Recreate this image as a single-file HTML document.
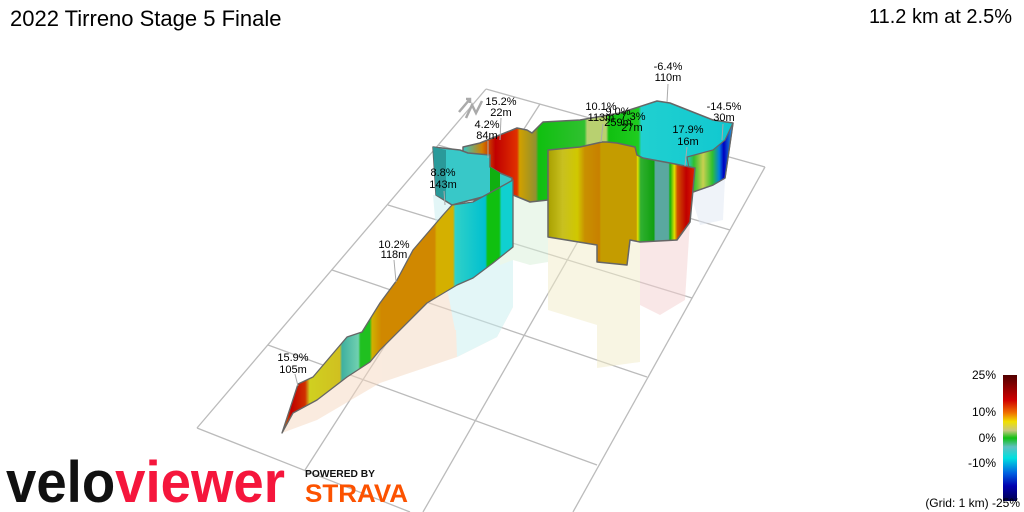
<!DOCTYPE html>
<html><head><style>
body{margin:0;width:1024px;height:512px;background:#fff;font-family:"Liberation Sans",sans-serif;overflow:hidden;position:relative}
.t{position:absolute;font-size:22px;color:#000}
</style></head><body>
<div class="t" style="left:10px;top:6px">2022 Tirreno Stage 5 Finale</div>
<div class="t" style="right:12px;top:6px;font-size:20px">11.2 km at 2.5%</div>
<svg width="1024" height="512" style="position:absolute;left:0;top:0" font-family="Liberation Sans, sans-serif">
<defs>
<linearGradient id="cb" x1="0" y1="0" x2="0" y2="1">
<stop offset="0" stop-color="#500000"/><stop offset="0.2" stop-color="#d00000"/><stop offset="0.3" stop-color="#f07000"/><stop offset="0.37" stop-color="#f0e000"/><stop offset="0.44" stop-color="#c8c880"/><stop offset="0.5" stop-color="#10c010"/><stop offset="0.57" stop-color="#60c0c0"/><stop offset="0.66" stop-color="#00e0e0"/><stop offset="0.78" stop-color="#0060e0"/><stop offset="0.88" stop-color="#0000b0"/><stop offset="1" stop-color="#000050"/>
</linearGradient>
<linearGradient id="ramp" gradientUnits="userSpaceOnUse" x1="282" y1="0" x2="513" y2="0">
<stop offset="0" stop-color="#d09000"/><stop offset="0.04" stop-color="#c00000"/><stop offset="0.1" stop-color="#d03000"/><stop offset="0.12" stop-color="#d0d020"/><stop offset="0.25" stop-color="#d0c020"/><stop offset="0.26" stop-color="#40b0a0"/><stop offset="0.33" stop-color="#70d0b0"/><stop offset="0.34" stop-color="#20c020"/><stop offset="0.38" stop-color="#20c020"/><stop offset="0.39" stop-color="#d0b000"/><stop offset="0.43" stop-color="#d08800"/><stop offset="0.66" stop-color="#d08800"/><stop offset="0.67" stop-color="#d4b000"/><stop offset="0.74" stop-color="#d4b000"/><stop offset="0.75" stop-color="#30d0c8"/><stop offset="0.88" stop-color="#00c0d0"/><stop offset="0.89" stop-color="#10c010"/><stop offset="0.94" stop-color="#10c010"/><stop offset="0.95" stop-color="#10d0d0"/><stop offset="1" stop-color="#10d0d0"/>
</linearGradient>
<linearGradient id="back" gradientUnits="userSpaceOnUse" x1="463" y1="0" x2="733" y2="0">
<stop offset="0" stop-color="#30c8c8"/><stop offset="0.07" stop-color="#d08000"/><stop offset="0.12" stop-color="#c00000"/><stop offset="0.2" stop-color="#e03000"/><stop offset="0.21" stop-color="#d0a000"/><stop offset="0.27" stop-color="#909030"/><stop offset="0.28" stop-color="#10c010"/><stop offset="0.45" stop-color="#30c030"/><stop offset="0.46" stop-color="#b8d070"/><stop offset="0.53" stop-color="#b8d070"/><stop offset="0.54" stop-color="#10c010"/><stop offset="0.65" stop-color="#20cc20"/><stop offset="0.66" stop-color="#20d0d0"/><stop offset="1" stop-color="#10c8d0"/>
</linearGradient>
<linearGradient id="mid" gradientUnits="userSpaceOnUse" x1="548" y1="0" x2="695" y2="0">
<stop offset="0" stop-color="#a8a000"/><stop offset="0.1" stop-color="#c8c020"/><stop offset="0.2" stop-color="#d0c800"/><stop offset="0.25" stop-color="#c89000"/><stop offset="0.35" stop-color="#c88000"/><stop offset="0.36" stop-color="#c49c00"/><stop offset="0.6" stop-color="#c49c00"/><stop offset="0.61" stop-color="#e0e000"/><stop offset="0.63" stop-color="#30b030"/><stop offset="0.72" stop-color="#10a010"/><stop offset="0.73" stop-color="#5aa8a0"/><stop offset="0.82" stop-color="#5aa8a0"/><stop offset="0.83" stop-color="#10b010"/><stop offset="0.86" stop-color="#e0e000"/><stop offset="0.88" stop-color="#d05000"/><stop offset="0.94" stop-color="#c00000"/><stop offset="1" stop-color="#e02000"/>
</linearGradient>
<linearGradient id="rp" gradientUnits="userSpaceOnUse" x1="687" y1="0" x2="733" y2="0">
<stop offset="0" stop-color="#20c8d0"/><stop offset="0.15" stop-color="#30c030"/><stop offset="0.35" stop-color="#c8d050"/><stop offset="0.55" stop-color="#30c030"/><stop offset="0.7" stop-color="#0080e0"/><stop offset="0.8" stop-color="#0000c0"/><stop offset="1" stop-color="#20b0e0"/>
</linearGradient>
</defs>
<g stroke="#bbb" stroke-width="1.3" fill="none">
<line x1="197" y1="428" x2="486" y2="89"/>
<line x1="486" y1="89" x2="765" y2="167"/>
<line x1="765" y1="167" x2="573" y2="512"/>
<line x1="197" y1="428" x2="410" y2="512"/>
<line x1="268" y1="345" x2="597" y2="465"/>
<line x1="332" y1="270" x2="647" y2="377"/>
<line x1="388" y1="205" x2="692" y2="298"/>
<line x1="438" y1="145" x2="730" y2="230"/>
<line x1="305" y1="470" x2="540" y2="104"/>
<line x1="423" y1="512" x2="640" y2="133"/>
</g>
<!-- pale shadows -->
<g opacity="0.5">
<polygon points="282,433 293,413 317,400 347,377 380,350 427,303 473,278 513,247 513,307 497,337 457,357 380,383 317,420 290,430" fill="#f5d8c0"/>
<polygon points="455,300 513,247 513,307 497,337 457,357" fill="#c8f0f0"/>
<polygon points="433,195 500,195 500,330 455,330 436,230" fill="#c8eef0"/>
<polygon points="500,195 548,200 548,262 530,265 513,260 500,265" fill="#d8f0d8"/>
<polygon points="548,237 597,245 640,242 640,362 597,368 597,325 548,310" fill="#f2ecc8"/>
<polygon points="640,242 690,222 685,300 660,315 640,305" fill="#f5d0d0"/>
<polygon points="690,192 725,178 723,220 700,225" fill="#e0e8f5"/>
</g>
<!-- back wall -->
<polygon points="463,147 480,143 517,128 527,130 532,133 543,122 580,120 620,113 657,101 670,103 713,120 733,123 725,178 713,185 693,192 548,200 530,202 513,195 480,200 463,200" fill="url(#back)" stroke="#666" stroke-width="1.5" stroke-linejoin="round"/>
<polygon points="687,157 713,150 725,140 733,123 725,178 713,185 693,192" fill="url(#rp)" stroke="#666" stroke-width="1.2"/>
<polygon points="433,147 460,150 468,153 490,155 490,167 500,173 512,178 512,200 490,195 452,205 436,195" fill="#38c8c8" stroke="#666" stroke-width="1.5" stroke-linejoin="round"/>
<polygon points="433,147 446,150 446,200 436,195" fill="#2a9a9a"/>
<polygon points="490,167 500,173 500,200 490,196" fill="#10b010"/>
<polygon points="548,150 580,147 602,142 607,142 617,143 635,147 637,155 643,158 670,163 695,168 690,222 677,240 640,242 630,240 627,265 597,262 597,245 548,237" fill="url(#mid)" stroke="#666" stroke-width="1.5" stroke-linejoin="round"/>
<polygon points="282,433 298,384 313,377 347,337 362,332 380,303 397,280 413,250 443,215 452,205 473,202 495,190 513,180 513,247 493,263 473,278 457,285 427,303 380,350 370,362 347,377 317,400 293,413" fill="url(#ramp)" stroke="#666" stroke-width="1.3" stroke-linejoin="round"/>
<g stroke="#aaa" stroke-width="1">
<line x1="295" y1="374" x2="298" y2="386"/><line x1="394" y1="260" x2="396" y2="282"/>
<line x1="444" y1="191" x2="445" y2="205"/><line x1="488" y1="141" x2="488" y2="158"/>
<line x1="501" y1="118" x2="500" y2="140"/><line x1="668" y1="84" x2="667" y2="102"/>
<line x1="723" y1="124" x2="722" y2="140"/><line x1="687" y1="147" x2="685" y2="166"/>
<line x1="603" y1="124" x2="601" y2="142"/>
</g>
<g font-size="11" text-anchor="middle" fill="#000">
<text x="293" y="361">15.9%</text><text x="293" y="373">105m</text>
<text x="394" y="248">10.2%</text><text x="394" y="258">118m</text>
<text x="443" y="176">8.8%</text><text x="443" y="188">143m</text>
<text x="487" y="128">4.2%</text><text x="487" y="139">84m</text>
<text x="501" y="105">15.2%</text><text x="501" y="116">22m</text>
<text x="601" y="110">10.1%</text><text x="601" y="121">113m</text>
<text x="618" y="115">9.0%</text><text x="618" y="126">259m</text>
<text x="633" y="120">7.3%</text><text x="632" y="131">27m</text>
<text x="668" y="70">-6.4%</text><text x="668" y="81">110m</text>
<text x="724" y="110">-14.5%</text><text x="724" y="121">30m</text>
<text x="688" y="133">17.9%</text><text x="688" y="145">16m</text>
</g>
<g stroke="#aaa" stroke-width="2.5" fill="none">
<path d="M459,112 L470,99 M466,99 L470,99 L470,103"/>
<path d="M466,118 L472,105 L476,113 L482,101"/>
</g>
<rect x="1003" y="375" width="14" height="126" fill="url(#cb)"/>
<g font-size="12" text-anchor="end" fill="#000">
<text x="996" y="379">25%</text><text x="996" y="416">10%</text><text x="996" y="442">0%</text><text x="996" y="467">-10%</text>
<text x="1020" y="507">(Grid: 1 km) -25%</text>
</g>
<text x="6" y="502" font-size="58" font-weight="bold" textLength="279" lengthAdjust="spacingAndGlyphs" fill="#111">velo<tspan fill="#f5163c">viewer</tspan></text>
<text x="305" y="477" font-size="10.5" font-weight="bold" textLength="70" lengthAdjust="spacingAndGlyphs" fill="#111">POWERED BY</text>
<text x="305" y="502" font-size="25" font-weight="bold" textLength="103" lengthAdjust="spacingAndGlyphs" fill="#fc5200">STRAVA</text>
</svg>
</body></html>
